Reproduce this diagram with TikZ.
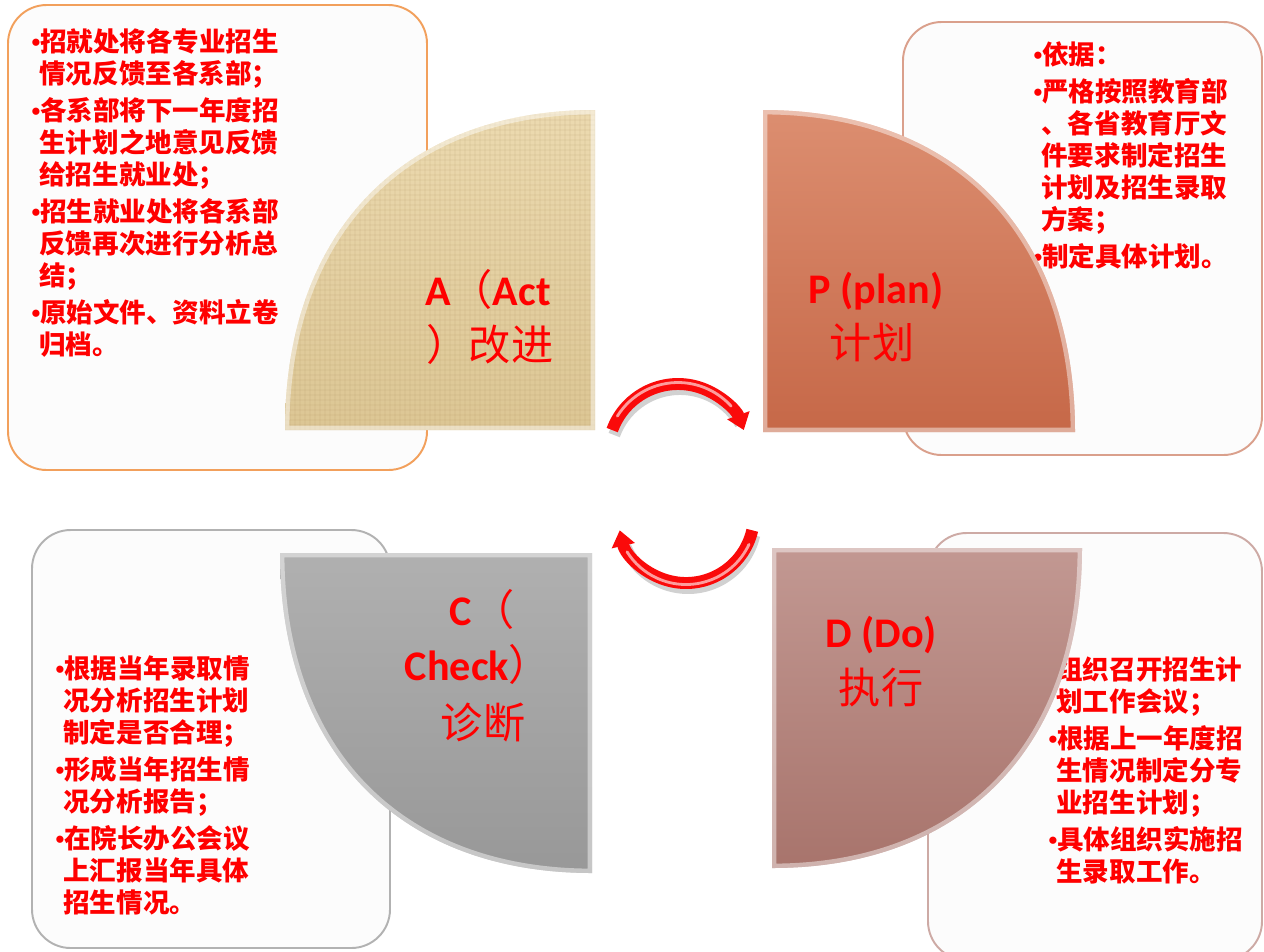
\documentclass[tikz,border=0pt]{standalone}
\usepackage{fontspec}
\setmainfont{Carlito}
\newfontfamily\cjk{Noto Sans CJK SC}
\newfontfamily\bulf{Liberation Serif}
\usetikzlibrary{arrows.meta}
\definecolor{tred}{RGB}{255,0,0}
\definecolor{boxfill}{RGB}{252,252,252}
\definecolor{bordA}{RGB}{242,160,92}
\definecolor{bordP}{RGB}{218,160,140}
\definecolor{bordC}{RGB}{178,178,178}
\definecolor{bordD}{RGB}{205,170,165}
\definecolor{aTop}{RGB}{236,218,176}
\definecolor{aBot}{RGB}{220,198,148}
\definecolor{aLine}{RGB}{170,140,90}
\definecolor{pTop}{RGB}{220,142,112}
\definecolor{pBot}{RGB}{198,104,72}
\definecolor{cTop}{RGB}{176,176,176}
\definecolor{cBot}{RGB}{152,152,152}
\definecolor{dTop}{RGB}{194,152,146}
\definecolor{dBot}{RGB}{168,116,108}
\definecolor{arrred}{RGB}{250,10,10}
\newcommand\pbul{\makebox[5pt][l]{\bulf •}}
\newcommand\pind{\hspace*{4.6pt}}
\newcommand\quarterA[1]{\path[#1] (595,430) -- (285,430) .. controls (285,232) and (403,110) .. (595,110) -- cycle;}
\newcommand\quarterP[1]{\path[#1] (763,432) -- (763,110) .. controls (956,110) and (1075,232) .. (1075,432) -- cycle;}
\newcommand\quarterC[1]{\path[#1] (592,553) -- (280,553) .. controls (280,751) and (399,873) .. (592,873) -- cycle;}
\newcommand\quarterD[1]{\path[#1] (772,548) -- (1082,548) .. controls (1082,746) and (964,868) .. (772,868) -- cycle;}
\begin{document}
\begin{tikzpicture}[x=0.02cm,y=-0.02cm,
  boxtext/.style={anchor=north west, inner sep=0pt, align=left, text=tred,
    font=\cjk\bfseries\fontsize{15.1}{18.3}\selectfont},
  qlat/.style={anchor=base, inner sep=0pt, text=tred, font=\bfseries\fontsize{24}{28}\selectfont},
  qcjk/.style={anchor=base, inner sep=0pt, text=tred, font=\cjk\fontsize{24}{28}\selectfont},
  infobox/.style={rounded corners=22pt, line width=1.1pt, fill=boxfill},
  redarrow/.style={line width=6.8pt, draw=arrred, -{Triangle[length=9pt,width=13pt]}},
  arrshadow/.style={line width=6.8pt, draw=black, opacity=.18},
  arrgloss/.style={line width=1.6pt, draw=white, opacity=.6, line cap=round},
  bevel/.style={draw=white, opacity=.45, line width=5pt},
]
\useasboundingbox (0,0) rectangle (1264,951);

% info boxes
\draw[infobox, draw=bordA] (8,5) rectangle (427,470);
\draw[infobox, draw=bordP] (903,22) rectangle (1262,455);
\draw[infobox, draw=bordC] (32,530) rectangle (390,948);
\draw[infobox, draw=bordD] (928,533) rectangle (1262,960);

% box texts
\node[boxtext] (tA) at (31,28) {\pbul 招就处将各专业招生\\
\pind 情况反馈至各系部；\\[2.7pt]
\pbul 各系部将下一年度招\\
\pind 生计划之地意见反馈\\
\pind 给招生就业处；\\[2.7pt]
\pbul 招生就业处将各系部\\
\pind 反馈再次进行分析总\\
\pind 结；\\[2.7pt]
\pbul 原始文件、资料立卷\\
\pind 归档。};

\node[boxtext] (tP) at (1033,41) {\pbul 依据：\\[2.7pt]
\pbul 严格按照教育部\\
\pind 、各省教育厅文\\
\pind 件要求制定招生\\
\pind 计划及招生录取\\
\pind 方案；\\[2.7pt]
\pbul 制定具体计划。};

\node[boxtext] (tC) at (55,655) {\pbul 根据当年录取情\\
\pind 况分析招生计划\\
\pind 制定是否合理；\\[2.7pt]
\pbul 形成当年招生情\\
\pind 况分析报告；\\[2.7pt]
\pbul 在院长办公会议\\
\pind 上汇报当年具体\\
\pind 招生情况。};

\node[boxtext] (tD) at (1048,656) {\pind 组织召开招生计\\
\pind 划工作会议；\\[2.7pt]
\pbul 根据上一年度招\\
\pind 生情况制定分专\\
\pind 业招生计划；\\[2.7pt]
\pbul 具体组织实施招\\
\pind 生录取工作。};

% quarter A (textured)
\quarterA{top color=aTop, bottom color=aBot}
\begin{scope}
  \quarterA{clip}
  \foreach \i in {285,290,...,595} {\draw[aLine, opacity=.08, line width=.6pt] (\i,110) -- (\i,430);}
  \foreach \j in {110,115,...,430} {\draw[aLine, opacity=.08, line width=.6pt] (285,\j) -- (595,\j);}
  \quarterA{bevel}
\end{scope}
% quarter P
\quarterP{top color=pTop, bottom color=pBot}
\begin{scope}\quarterP{clip}\quarterP{bevel}\end{scope}
% quarter C
\quarterC{top color=cTop, bottom color=cBot}
\begin{scope}\quarterC{clip}\quarterC{bevel}\end{scope}
% quarter D
\quarterD{top color=dTop, bottom color=dBot}
\begin{scope}\quarterD{clip}\quarterD{bevel}\end{scope}

% quarter labels
\node[qlat] (lA1) at (488,305) {A{\cjk\mdseries （}Act};
\node[qcjk] (lA2) at (490,360) {）改进};
\node[qlat] (lP1) at (876,303) {P (plan)};
\node[qcjk] (lP2) at (872,358) {计划};
\node[qlat] (lC1) at (482,625) {C{\cjk\mdseries （}};
\node[qlat] (lC2) at (478,680) {Check{\cjk\mdseries ）}};
\node[qcjk] (lC3) at (483,738) {诊断};
\node[qlat] (lD1) at (881,647) {D (Do)};
\node[qcjk] (lD2) at (881,703) {执行};

% cycle arrows
\coordinate (c1) at (678,454);
\coordinate (c2) at (686,515);
\draw[arrshadow] ([shift={(2,5)}]c1) ++(200:70) arc[start angle=200, end angle=330, radius=70];
\draw[redarrow] (c1) ++(200:70) arc[start angle=200, end angle=340, radius=70];
\draw[arrgloss] (c1) ++(212:71.5) arc[start angle=212, end angle=318, radius=71.5];
\draw[arrshadow] ([shift={(2,5)}]c2) ++(13:68) arc[start angle=13, end angle=157, radius=68];
\draw[redarrow] (c2) ++(13:68) arc[start angle=13, end angle=167, radius=68];
\draw[arrgloss] (c2) ++(25:69.5) arc[start angle=25, end angle=148, radius=69.5];
\end{tikzpicture}
\end{document}
